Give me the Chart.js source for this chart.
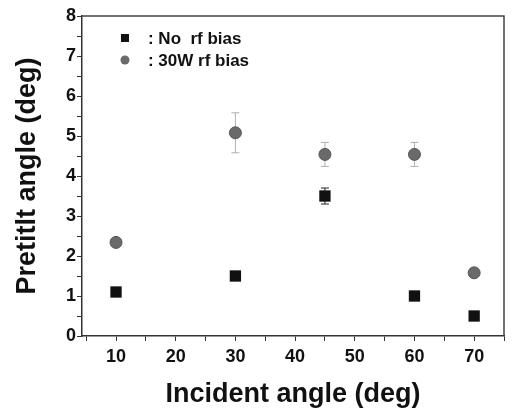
<!DOCTYPE html>
<html lang="en">
<head>
    <meta charset="UTF-8">
    <title>Pretilt angle vs incident angle</title>
    <style>
        body {
            margin: 0;
            padding: 0;
            background-color: #fff;
        }
        .container {
            width: 512px;
            height: 411px;
        }
    </style>
    <script src="https://cdn.jsdelivr.net/npm/chart.js"></script>
</head>
<body>
    <div class="container">
        <canvas id="pretiltChart" width="512" height="411"></canvas>
    </div>

    <script>
        const angles = [10, 30, 45, 60, 70];
        const noBias = [1.1, 1.5, 3.5, 1.0, 0.5];
        const noBiasErr = [0, 0, 0.2, 0, 0];
        const bias30W = [2.34, 5.08, 4.54, 4.54, 1.58];
        const bias30WErr = [0, 0.5, 0.3, 0.3, 0];
        const xTickLabels = [10, 20, 30, 40, 50, 60, 70];
        const yTickLabels = [0, 1, 2, 3, 4, 5, 6, 7, 8];

        const fontFamily = "'Liberation Sans', Arial, sans-serif";

        function toPoints(ys) {
            return angles.map((x, i) => ({ x: x, y: ys[i] }));
        }

        // error bars, drawn behind the markers
        const errorBars = {
            id: 'errorBars',
            beforeDatasetsDraw(chart) {
                const ctx = chart.ctx;
                const xs = chart.scales.x;
                const ys = chart.scales.y;
                chart.data.datasets.forEach(ds => {
                    if (!ds.err) return;
                    ctx.save();
                    ctx.strokeStyle = ds.errColor;
                    ctx.lineWidth = 1;
                    ds.data.forEach((p, i) => {
                        const e = ds.err[i];
                        if (!e) return;
                        const px = xs.getPixelForValue(p.x);
                        const top = ys.getPixelForValue(p.y + e);
                        const bot = ys.getPixelForValue(p.y - e);
                        ctx.beginPath();
                        ctx.moveTo(px, top);
                        ctx.lineTo(px, bot);
                        ctx.moveTo(px - 4, top);
                        ctx.lineTo(px + 4, top);
                        ctx.moveTo(px - 4, bot);
                        ctx.lineTo(px + 4, bot);
                        ctx.stroke();
                    });
                    ctx.restore();
                });
            }
        };

        // frame round the plot area
        const frame = {
            id: 'frame',
            afterDraw(chart) {
                const a = chart.chartArea;
                const ctx = chart.ctx;
                ctx.save();
                ctx.strokeStyle = '#444';
                ctx.lineWidth = 1.5;
                ctx.beginPath();
                ctx.moveTo(a.left, a.top);
                ctx.lineTo(a.right, a.top);
                ctx.lineTo(a.right, a.bottom);
                ctx.stroke();
                ctx.restore();
            }
        };

        // legend inside the plot, top left
        const insideLegend = {
            id: 'insideLegend',
            afterDraw(chart) {
                const ctx = chart.ctx;
                const xs = chart.scales.x;
                const ys = chart.scales.y;
                const mx = xs.getPixelForValue(11.5);
                chart.data.datasets.forEach((ds, i) => {
                    const my = ys.getPixelForValue(7.45 - i * 0.55);
                    ctx.save();
                    ctx.fillStyle = ds.backgroundColor;
                    ctx.strokeStyle = ds.borderColor;
                    if (ds.pointStyle === 'rect') {
                        ctx.fillRect(mx - 4, my - 4, 8, 8);
                    } else {
                        ctx.beginPath();
                        ctx.arc(mx, my, 4.5, 0, Math.PI * 2);
                        ctx.fill();
                    }
                    ctx.fillStyle = '#111';
                    ctx.font = 'bold 17px ' + fontFamily;
                    ctx.textBaseline = 'middle';
                    ctx.textAlign = 'left';
                    ctx.fillText(ds.label, mx + 23, my + 1);
                    ctx.restore();
                });
            }
        };

        const ctx = document.getElementById('pretiltChart').getContext('2d');
        const chart = new Chart(ctx, {
            type: 'scatter',
            data: {
                datasets: [{
                    label: ': No  rf bias',
                    data: toPoints(noBias),
                    err: noBiasErr,
                    errColor: '#222',
                    pointStyle: 'rect',
                    pointRadius: 8,
                    backgroundColor: '#111',
                    borderColor: '#111',
                    borderWidth: 0
                }, {
                    label: ': 30W rf bias',
                    data: toPoints(bias30W),
                    err: bias30WErr,
                    errColor: '#b0b0b0',
                    pointStyle: 'circle',
                    pointRadius: 6,
                    backgroundColor: '#6a6a6a',
                    borderColor: '#555',
                    borderWidth: 1
                }]
            },
            options: {
                responsive: false,
                animation: false,
                layout: {
                    padding: { top: 16, right: 6, left: 0, bottom: 0 }
                },
                plugins: {
                    legend: { display: false },
                    tooltip: { enabled: false }
                },
                scales: {
                    x: {
                        type: 'linear',
                        min: 4.3,
                        max: 75,
                        afterFit(scale) { scale.height = 75; },
                        border: { color: '#333', width: 1.5 },
                        grid: {
                            drawOnChartArea: false,
                            tickLength: 5,
                            tickColor: '#333'
                        },
                        ticks: {
                            stepSize: 5,
                            includeBounds: false,
                            padding: 5,
                            color: '#111',
                            font: { family: fontFamily, size: 18, weight: 'bold' },
                            autoSkip: false,
                            maxRotation: 0,
                            callback: v => xTickLabels.includes(v) ? String(v) : ''
                        },
                        title: {
                            display: true,
                            text: 'Incident angle (deg)',
                            color: '#111',
                            padding: { top: 0, bottom: 0 },
                            font: { family: fontFamily, size: 27, weight: 'bold' }
                        }
                    },
                    y: {
                        min: 0,
                        max: 8,
                        afterFit(scale) { scale.width = 82; },
                        border: { color: '#333', width: 1.5 },
                        grid: {
                            drawOnChartArea: false,
                            tickLength: 5,
                            tickColor: '#333'
                        },
                        ticks: {
                            stepSize: 0.5,
                            padding: 1,
                            color: '#111',
                            font: { family: fontFamily, size: 18, weight: 'bold' },
                            autoSkip: false,
                            callback: v => yTickLabels.includes(v) ? String(v) : ''
                        },
                        title: {
                            display: true,
                            text: 'Pretitlt angle (deg)',
                            color: '#111',
                            padding: { top: 11, bottom: 0 },
                            font: { family: fontFamily, size: 27, weight: 'bold' }
                        }
                    }
                }
            },
            plugins: [errorBars, frame, insideLegend]
        });
    </script>
</body>
</html>
